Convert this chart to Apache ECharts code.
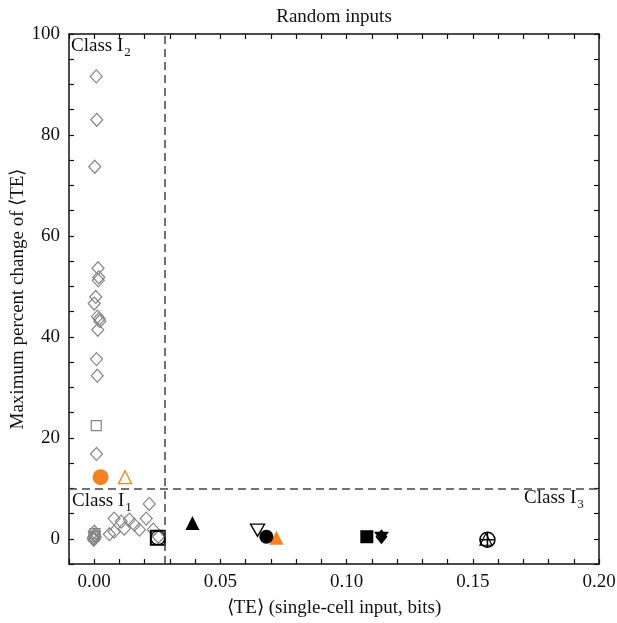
<!DOCTYPE html>
<html>
<head>
<meta charset="utf-8">
<script src="https://cdn.jsdelivr.net/npm/echarts@6/dist/echarts.min.js"></script>
<style>
html,body{margin:0;padding:0;background:#fff;}
#main{width:617px;height:623px;}
</style>
</head>
<body>
<div id="main"></div>
<script>
// 数据 [<TE>, 最大百分比变化]
var grayDiamonds = [
    [0.0008, 91.6], [0.0010, 83.0], [0.0002, 73.7], [0.0015, 53.6], [0.0018, 51.8],
    [0.0016, 51.2], [0.0006, 47.9], [0.0000, 46.6], [0.0013, 44.0], [0.0020, 43.6],
    [0.0022, 43.1], [0.0014, 41.4], [0.0009, 35.6], [0.0012, 32.3], [0.0009, 16.8],
    [0.0218, 6.9], [0.0079, 4.0], [0.0107, 3.4], [0.0139, 3.8], [0.0159, 2.8],
    [0.0206, 4.0], [0.0179, 1.8], [0.0119, 2.0], [0.0079, 1.4], [0.0060, 0.9],
    [0.0234, 1.8], [0.0254, 0.4],
    [-0.0004, 0.2], [0.0002, 0.8], [0.0000, 1.4], [-0.0002, -0.2], [0.0004, 0.4], [0.0001, 0.0]
];
var graySquares = [[0.0008, 22.4], [0.0003, 1.0], [-0.0001, 0.5]];
var orangeCircle = [[0.0025, 12.2]];
var orangeTriHollow = [[0.0122, 12.2]];
var orangeTriFilled = [[0.0722, 0.2]];
var blackTriFilled = [[0.0389, 3.1]];
var blackTriDown = [[0.0647, 1.7]];
var blackCircle = [[0.0682, 0.4]];
var blackSquare = [[0.1080, 0.4]];
var blackDiamond = [[0.1138, 0.4]];
var blackHollowSquare = [[0.0252, 0.2]];
var circlePlus = [[0.1558, -0.2]];
var hollowTri = [[0.1552, -0.1]];

var xTicks = [0, 0.05, 0.10, 0.15, 0.20];
var yTicks = [0, 20, 40, 60, 80, 100];
var classLine = {x: 0.028, y: 10};

var fontName = 'Liberation Serif';
var mainFont = '19px "Liberation Serif"';
var subFont = '13px "Liberation Serif"';

function mk(name, data, symbol, size, fill, stroke, bw, z) {
    return {
        name: name,
        type: 'scatter',
        data: data,
        symbol: symbol,
        symbolSize: size,
        z: z || 3,
        itemStyle: {
            color: fill,
            borderColor: stroke,
            borderWidth: bw,
            opacity: 1
        }
    };
}

var plus = 'path://M0,10L20,10M10,0L10,20';
var triDown = 'path://M0,0L20,0L10,17Z';

var series = [
    mk('gd', grayDiamonds, 'diamond', [12, 13], 'rgba(0,0,0,0)', '#858585', 1.2),
    mk('gs', graySquares, 'rect', 10, 'rgba(0,0,0,0)', '#858585', 1.2),
    mk('oc', orangeCircle, 'circle', 16, '#f58220', '#f58220', 0),
    mk('ot', orangeTriHollow, 'triangle', 13, 'rgba(0,0,0,0)', '#f58220', 1.3),
    mk('otf', orangeTriFilled, 'triangle', 14, '#f58220', '#f58220', 0, 4),
    mk('bt', blackTriFilled, 'triangle', 14, '#000', '#000', 0),
    mk('btd', blackTriDown, triDown, [14, 12], 'rgba(0,0,0,0)', '#000', 1.4),
    mk('bc', blackCircle, 'circle', 14, '#000', '#000', 0, 5),
    mk('bs', blackSquare, 'rect', 13, '#000', '#000', 0),
    mk('bd', blackDiamond, 'diamond', [12, 15], '#000', '#000', 0),
    mk('bdt', blackDiamond, triDown, [15, 10], '#000', '#000', 0),
    mk('bhs', blackHollowSquare, 'rect', 14, 'rgba(0,0,0,0)', '#000', 2),
    mk('bhc', blackHollowSquare, 'circle', 14, 'rgba(0,0,0,0)', '#000', 1.2),
    mk('cp1', circlePlus, 'circle', 15, 'rgba(0,0,0,0)', '#000', 1.5),
    mk('cp2', circlePlus, plus, 15, 'rgba(0,0,0,0)', '#000', 1.5),
    mk('ht', hollowTri, 'triangle', 12, 'rgba(0,0,0,0)', '#000', 1.2)
];

// 虚线分区
series.push({
    type: 'scatter',
    data: [],
    markLine: {
        silent: true,
        symbol: 'none',
        precision: 4,
        label: {show: false},
        lineStyle: {color: '#444', width: 1.5, type: [8, 5]},
        data: [{xAxis: classLine.x}, {yAxis: classLine.y}]
    }
});

function xFmt(v) {
    var r = Math.round(v * 100);
    for (var i = 0; i < xTicks.length; i++) {
        if (Math.round(xTicks[i] * 100) === r) return xTicks[i].toFixed(2);
    }
    return '';
}
function yFmt(v) {
    return yTicks.indexOf(v) >= 0 ? String(v) : '';
}

// 文字宽度，用来放下标
var ctx = document.createElement('canvas').getContext('2d');
ctx.font = mainFont;
var classW = ctx.measureText('Class I').width;

function classLabel(sub, x, y) {
    return [
        {type: 'text', left: x, top: y, style: {text: 'Class I', font: mainFont, fill: '#111'}},
        {type: 'text', left: x + classW + 1, top: y + 9, style: {text: sub, font: subFont, fill: '#111'}}
    ];
}

var axisText = {fontFamily: fontName, fontSize: 19, color: '#111'};
var axLine = {show: true, onZero: false, lineStyle: {color: '#111', width: 1.5}};
var tick = {show: true, inside: true, length: 5, lineStyle: {color: '#111', width: 1.2}};

option = {
    backgroundColor: '#fff',
    animation: false,
    grid: {left: 69, right: 18, top: 34, bottom: 59, containLabel: false, outerBoundsMode: 'none'},
    xAxis: [{
        type: 'value', min: -0.01, max: 0.2, interval: 0.01, position: 'bottom',
        axisLine: axLine, axisTick: tick, splitLine: {show: false},
        axisLabel: {formatter: xFmt, margin: 9, fontFamily: fontName, fontSize: 19, color: '#111'},
        name: '\u27E8TE\u27E9 (single-cell input, bits)',
        nameLocation: 'middle', nameGap: 35, nameTextStyle: axisText
    }, {
        type: 'value', min: -0.01, max: 0.2, interval: 0.01, position: 'top',
        axisLine: axLine, axisTick: tick, splitLine: {show: false}, axisLabel: {show: false}
    }],
    yAxis: [{
        type: 'value', min: -5, max: 100, interval: 5, position: 'left',
        axisLine: axLine, axisTick: tick, splitLine: {show: false},
        axisLabel: {formatter: yFmt, margin: 9, fontFamily: fontName, fontSize: 19, color: '#111'},
        name: 'Maximum percent change of \u27E8TE\u27E9',
        nameLocation: 'middle', nameGap: 41, nameMoveOverlap: false, nameTextStyle: axisText
    }, {
        type: 'value', min: -5, max: 100, interval: 5, position: 'right',
        axisLine: axLine, axisTick: tick, splitLine: {show: false}, axisLabel: {show: false}
    }],
    graphic: [
        {type: 'text', x: 334, y: 8, style: {text: 'Random inputs', font: mainFont, fill: '#111', align: 'center', verticalAlign: 'top'}}
    ].concat(classLabel('2', 71, 37), classLabel('1', 72, 492), classLabel('3', 524, 489)),
    series: series
};

var myChart = echarts.init(document.getElementById('main'));
myChart.setOption(option);
</script>
</body>
</html>
